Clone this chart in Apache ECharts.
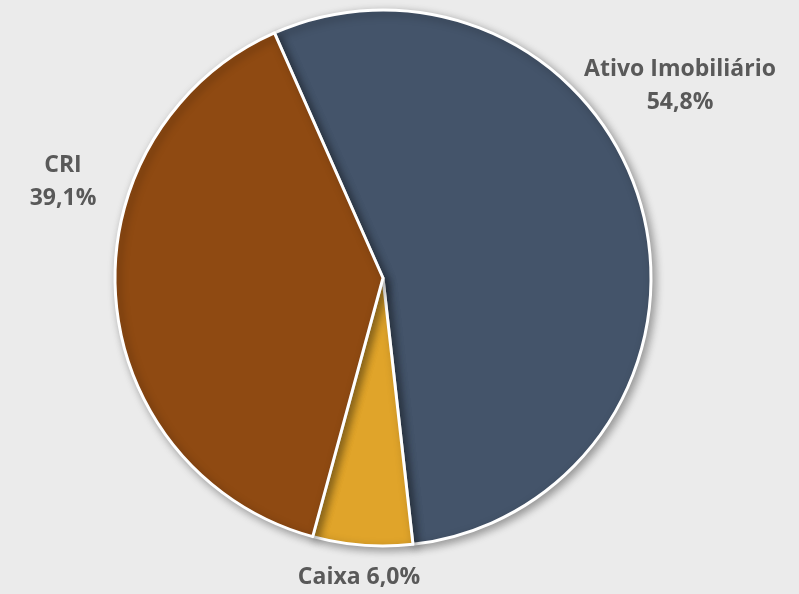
<!DOCTYPE html>
<html>
<head>
<meta charset="utf-8">
<script src="https://cdn.jsdelivr.net/npm/echarts@6/dist/echarts.min.js"></script>
<style>
html,body{margin:0;padding:0;background:#EBEBEB;}
#c{width:799px;height:594px;}
</style>
</head>
<body>
<div id="c"></div>
<script>
const categories = ['Ativo Imobiliário', 'Caixa', 'CRI'];
const values = [54.8, 6.0, 39.1];
const colors = ['#44546A', '#E0A42A', '#8F4A12'];
const labelPos = [[680, 86], [359, 577], [63, 182]];

const chart = echarts.init(document.getElementById('c'));
chart.setOption({
  backgroundColor: '#EBEBEB',
  animation: false,
  series: [{
    type: 'pie',
    center: [383, 278],
    radius: [0, 268],
    startAngle: 113.9,
    clockwise: true,
    data: categories.map((n, i) => ({
      name: n, value: values[i],
      itemStyle: { color: colors[i] }
    })),
    itemStyle: {
      borderColor: '#FFFFFF', borderWidth: 3,
      shadowBlur: 8, shadowOffsetX: 3, shadowOffsetY: 3, shadowColor: 'rgba(0,0,0,0.35)'
    },
    label: {
      show: true,
      position: 'outside',
      fontFamily: 'Open Sans',
      fontWeight: 'bold',
      fontSize: 23,
      color: '#595959',
      lineHeight: 33,
      align: 'center',
      overflow: 'none',
      width: 400,
      formatter: p => {
        const v = p.value.toFixed(1).replace('.', ',') + '%';
        return p.dataIndex === 1 ? p.name + ' ' + v : p.name + '\n' + v;
      }
    },
    labelLine: { show: false },
    labelLayout: p => ({
      x: labelPos[p.dataIndex][0],
      y: labelPos[p.dataIndex][1],
      align: 'center',
      verticalAlign: 'middle',
      hideOverlap: false
    })
  }]
});
</script>
</body>
</html>
